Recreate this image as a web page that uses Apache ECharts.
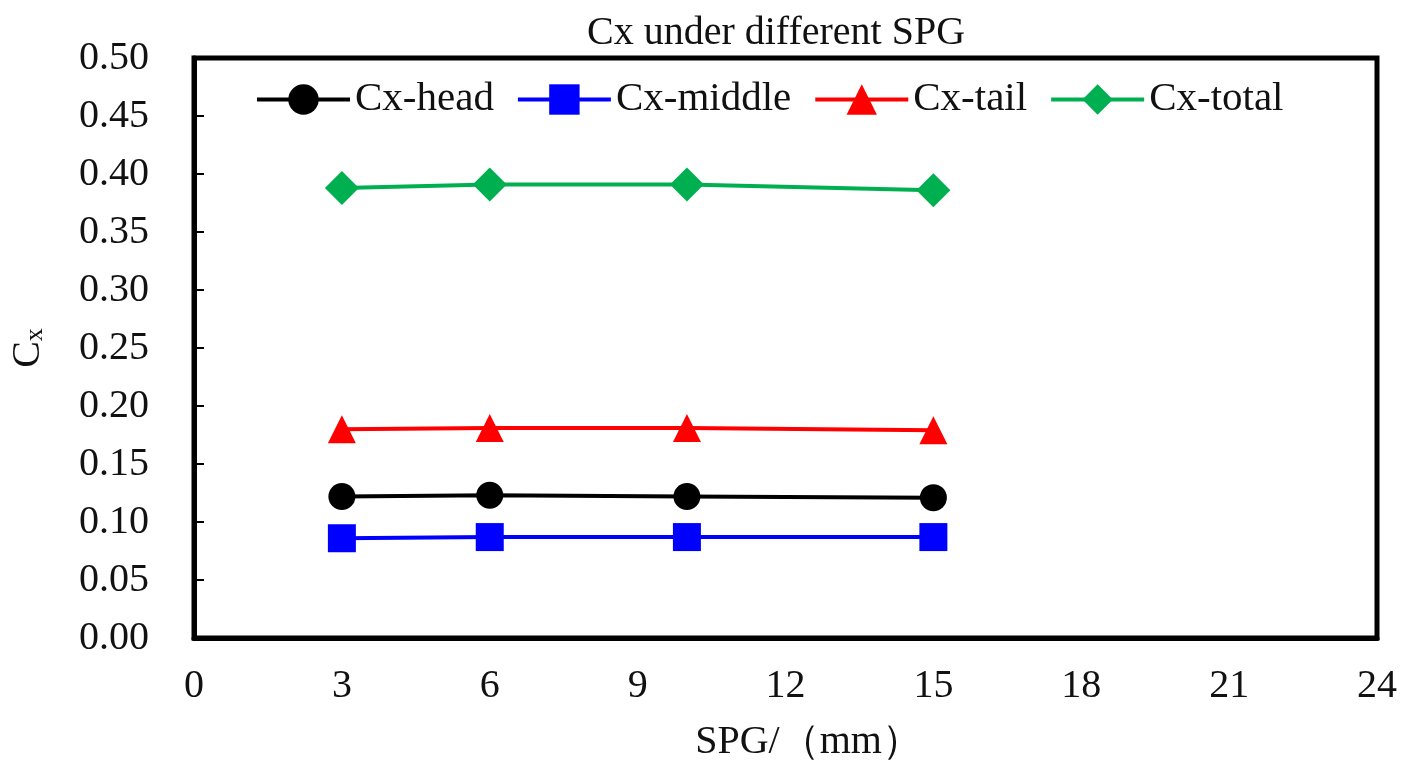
<!DOCTYPE html>
<html>
<head>
<meta charset="utf-8">
<script src="https://cdn.jsdelivr.net/npm/echarts@6/dist/echarts.min.js"></script>
<style>
  html, body { margin: 0; padding: 0; background: #fff; }
  #chart { width: 1408px; height: 767px; }
</style>
</head>
<body>
<div id="chart"></div>
<script>
// SPG gap values (mm)
const spg = [3, 6, 10, 15];
// Drag coefficient components
const cxHead = [0.122, 0.123, 0.122, 0.121];
const cxMiddle = [0.086, 0.087, 0.087, 0.087];
const cxTail = [0.180, 0.181, 0.181, 0.179];
const cxTotal = [0.388, 0.391, 0.391, 0.386];
const seriesNames = ['Cx-head', 'Cx-middle', 'Cx-tail', 'Cx-total'];

const FONT = '"Liberation Serif", "Times New Roman", serif';
const TXT = '#111';

function pairs(ys) { return spg.map((x, i) => [x, ys[i]]); }

const defs = [
  { name: seriesNames[0], data: cxHead, color: '#000000', symbol: 'circle', size: 27 },
  { name: seriesNames[1], data: cxMiddle, color: '#0000ff', symbol: 'rect', size: 28 },
  { name: seriesNames[2], data: cxTail, color: '#ff0000', symbol: 'triangle', size: 28 },
  { name: seriesNames[3], data: cxTotal, color: '#00b050', symbol: 'diamond', size: 34 }
];

const chart = echarts.init(document.getElementById('chart'), null, { renderer: 'canvas' });
chart.setOption({
  animation: false,
  backgroundColor: '#fff',
  title: {
    text: 'Cx under different SPG',
    left: 582, top: 8,
    textStyle: { fontFamily: FONT, fontSize: 40, fontWeight: 'normal', color: TXT }
  },
  legend: {
    data: seriesNames,
    left: 250, top: 74,
    itemWidth: 93, itemHeight: 38, itemGap: 22,
    lineStyle: { width: 4 },
    textStyle: { fontFamily: FONT, fontSize: 41, color: TXT }
  },
  grid: {
    left: 194, right: 31, top: 58, bottom: 127,
    show: true, borderColor: '#000', borderWidth: 5, backgroundColor: 'transparent'
  },
  xAxis: {
    type: 'value', min: 0, max: 24, interval: 3,
    name: 'SPG/（mm）', nameLocation: 'middle', nameGap: 84,
    nameTextStyle: { fontFamily: FONT, fontSize: 40, color: TXT, padding: [0, 0, 0, 46] },
    axisLine: { show: true, lineStyle: { color: '#000', width: 5 } },
    axisTick: { show: false },
    splitLine: { show: false },
    axisLabel: { fontFamily: FONT, fontSize: 40, color: TXT, margin: 28 }
  },
  yAxis: {
    type: 'value', min: 0, max: 0.5, interval: 0.05,
    name: '{c|C}{s|x}', nameLocation: 'middle', nameGap: 146, nameRotate: 90,
    nameTextStyle: {
      rich: {
        c: { fontFamily: FONT, fontSize: 40, color: TXT },
        s: { fontFamily: FONT, fontSize: 26, color: TXT, padding: [14, 0, 0, 0] }
      }
    },
    axisLine: { show: true, lineStyle: { color: '#000', width: 5 } },
    axisTick: { show: true, inside: true, length: 10, lineStyle: { color: '#000', width: 2 } },
    splitLine: { show: false },
    axisLabel: {
      fontFamily: FONT, fontSize: 40, color: TXT, margin: 45,
      formatter: v => v.toFixed(2)
    }
  },
  series: defs.map(d => ({
    name: d.name,
    type: 'line',
    data: pairs(d.data),
    symbol: d.symbol,
    symbolSize: d.size,
    showSymbol: true,
    lineStyle: { color: d.color, width: 4 },
    itemStyle: { color: d.color },
    z: 3
  }))
});
</script>
</body>
</html>
